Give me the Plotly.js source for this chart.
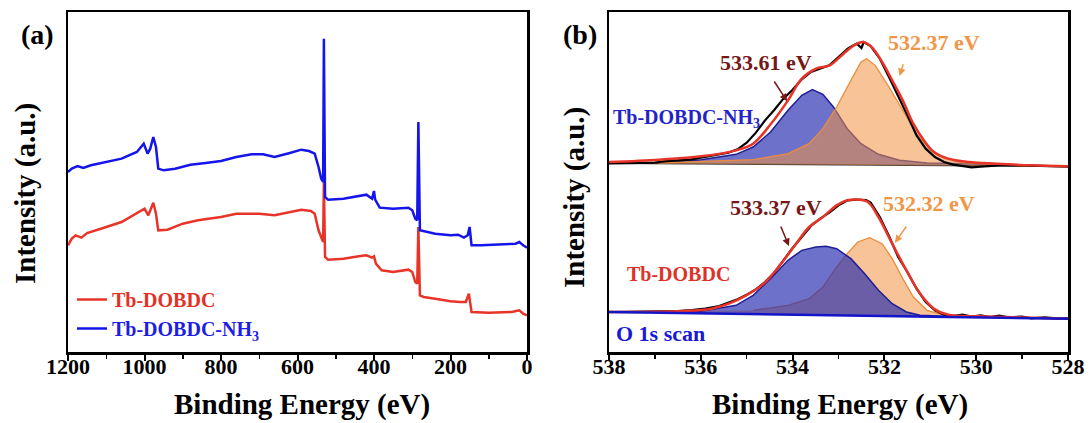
<!DOCTYPE html>
<html><head><meta charset="utf-8">
<script src="https://cdn.plot.ly/plotly-3.0.1.min.js"></script>
<style>html,body{margin:0;padding:0;background:#fff}#g{width:1091px;height:423px}</style>
</head><body><div id="g"></div>
<script>
// ---- Panel (a): XPS survey ----
const surveyE_blue = [1200,1190,1175,1160,1140,1100,1060,1020,1002,992,985,977,970,964,950,920,880,840,800,760,720,690,660,620,590,570,555,545,538,533,531,528,520,480,440,420,405,400,397,385,350,310,300,292,287,284,280,270,240,200,180,165,155,150,145,120,80,30,20,10,0];
const surveyI_blue = [540,550,558,552,560,570,580,600,625,595,610,645,615,550,545,550,562,567,573,585,593,593,585,597,607,603,595,555,520,510,940,465,457,460,467,472,460,483,457,433,430,433,425,400,395,690,365,362,355,350,352,343,350,375,320,320,322,325,330,320,313];
const surveyE_red = [1200,1190,1180,1165,1150,1130,1100,1060,1020,1000,990,977,970,964,940,900,860,800,760,700,660,620,590,565,555,545,537,533,531,528,520,480,440,420,405,400,395,380,350,310,300,292,287,284,280,270,240,200,175,160,152,145,100,40,20,10,0];
const surveyI_red = [320,340,350,343,357,365,375,390,415,430,410,448,415,365,367,385,395,405,415,415,410,420,427,423,415,365,337,330,510,285,277,280,287,290,283,287,265,245,240,247,240,210,205,375,170,165,160,152,150,150,175,120,118,120,125,115,110];
const survey_names = ["Tb-DOBDC", "Tb-DOBDC-NH<sub>3</sub>"];
const survey_ticks = [1200,1000,800,600,400,200,0];

// ---- Panel (b): O 1s ----
const topE_raw = [538,537.5,537,536.8,536.5,536.2,536,535.7,535.4,535.2,535,534.8,534.6,534.4,534.2,534,533.8,533.6,533.4,533.2,533,532.8,532.7,532.6,532.5,532.45,532.3,532.1,531.9,531.7,531.5,531.3,531.1,530.9,530.7,530.5,530.3,530.1,529.9,529.5,529,528.5,528];
const topI_raw = [566,566,568,572,574,578,583,590,598,608,628,658,695,726,760,787,818,840,850,860,885,910,918,925,912,930,918,880,825,770,710,650,610,585,570,562,558,554,556,560,560,558,556];
const topE_fit = [538,536.9,535.99,535.23,534.86,534.48,534.10,533.80,533.49,533.19,532.89,532.66,532.47,532.28,532.05,531.83,531.60,531.37,531.14,530.92,530.61,530.16,529.55,528.8,528];
const topI_fit = [570,577,587,605,625,683,755,820,850,860,895,920,930,915,870,815,755,685,635,600,580,570,565,560,557];
const topE_c1 = [536.9,535.99,535.23,534.86,534.48,534.10,533.80,533.57,533.34,533.11,532.81,532.51,532.13,531.67,531.07,530.31,529.55];
const topI_c1 = [567,577,593,615,660,725,770,787,773,735,670,625,593,575,567,565,563];
const topE_c2 = [536.9,534.86,534.10,533.64,533.34,533.04,532.73,532.51,532.39,532.20,531.90,531.60,531.30,530.99,530.69,530.31,529.55];
const topI_c2 = [567,577,595,625,670,735,815,870,880,860,795,725,655,605,580,568,563];
const topE_bg = [538,528];
const topI_bg = [566,557];

const botE_raw = [538,537,536.5,536.2,535.9,535.6,535.4,535.2,535,534.8,534.6,534.4,534.2,534,533.8,533.6,533.4,533.2,533,532.8,532.6,532.4,532.3,532.1,531.9,531.7,531.5,531.3,531.1,530.9,530.7,530.5,530.3,530.1,529.9,529.7,529.5,529.3,529,528.8,528.5,528.2,528];
const botI_raw = [120,121,123,126,130,138,148,158,172,188,210,238,275,312,345,378,400,418,440,455,457,456,448,405,348,285,240,190,150,125,112,108,112,106,110,105,109,104,106,101,104,100,102];
const botE_fit = [538,536.37,535.77,535.39,535.01,534.63,534.25,533.95,533.64,533.34,533.04,532.81,532.58,532.36,532.13,531.83,531.52,531.22,530.92,530.61,529.93,528.8,528];
const botI_fit = [120,123,130,145,170,205,265,320,375,405,440,455,457,450,405,325,245,175,130,112,107,103,100];
const botE_c1 = [538,535.99,535.23,534.86,534.48,534.10,533.80,533.49,533.27,533.04,532.73,532.43,532.13,531.83,531.52,531.22,530.69,528];
const botI_c1 = [120,122,140,170,220,275,305,315,317,310,280,235,185,145,120,110,107,100];
const botE_c2 = [534.86,534.10,533.64,533.34,533.04,532.81,532.58,532.32,532.05,531.83,531.60,531.37,531.07,530.69,529.93];
const botI_c2 = [125,140,160,195,255,295,330,343,325,280,220,165,125,110,105];
const botE_bg = [538,528];
const botI_bg = [120,100];
const o1s_ticks = [538,536,534,532,530,528];

const peak_labels = ["533.61 eV","532.37 eV","533.37 eV","532.32 eV"];

const FONT = "Liberation Serif, Times New Roman, serif";
const RED = "rgb(232,52,40)", BLUE = "rgb(20,20,235)";

const traces = [
  {x: surveyE_red, y: surveyI_red, name: '<span style="color:rgb(225,50,40)">' + survey_names[0] + '</span>', mode:'lines', line:{color:RED,width:2.5}, xaxis:'x', yaxis:'y'},
  {x: surveyE_blue, y: surveyI_blue, name: '<span style="color:rgb(30,30,225)">' + survey_names[1] + '</span>', mode:'lines', line:{color:BLUE,width:2.5}, xaxis:'x', yaxis:'y'},
  // top spectrum
  {x: topE_bg, y: topI_bg, mode:'lines', line:{color:'rgb(70,60,60)',width:1.5}, xaxis:'x2', yaxis:'y2', showlegend:false},
  {x: topE_c1, y: topI_c1, mode:'lines', fill:'tonexty', fillcolor:'rgba(40,45,175,0.68)', line:{color:'rgb(30,30,150)',width:1.5}, xaxis:'x2', yaxis:'y2', showlegend:false},
  {x: topE_bg, y: topI_bg, mode:'lines', line:{width:0,color:'rgba(0,0,0,0)'}, xaxis:'x2', yaxis:'y2', showlegend:false},
  {x: topE_c2, y: topI_c2, mode:'lines', fill:'tonexty', fillcolor:'rgba(240,145,65,0.55)', line:{color:'rgb(235,140,60)',width:1.3}, xaxis:'x2', yaxis:'y2', showlegend:false},
  {x: topE_raw, y: topI_raw, mode:'lines', line:{color:'black',width:2.2}, xaxis:'x2', yaxis:'y2', showlegend:false},
  {x: topE_fit, y: topI_fit, mode:'lines', line:{color:RED,width:2.5,shape:'spline'}, xaxis:'x2', yaxis:'y2', showlegend:false},
  // bottom spectrum
  {x: botE_bg, y: botI_bg, mode:'lines', line:{width:0,color:'rgba(0,0,0,0)'}, xaxis:'x2', yaxis:'y2', showlegend:false},
  {x: botE_c2, y: botI_c2, mode:'lines', fill:'tonexty', fillcolor:'rgba(240,145,65,0.55)', line:{color:'rgb(235,140,60)',width:1.3}, xaxis:'x2', yaxis:'y2', showlegend:false},
  {x: botE_bg, y: botI_bg, mode:'lines', line:{width:0,color:'rgba(0,0,0,0)'}, xaxis:'x2', yaxis:'y2', showlegend:false},
  {x: botE_c1, y: botI_c1, mode:'lines', fill:'tonexty', fillcolor:'rgba(40,45,175,0.68)', line:{color:'rgb(30,30,150)',width:1.5}, xaxis:'x2', yaxis:'y2', showlegend:false},
  {x: botE_raw, y: botI_raw, mode:'lines', line:{color:'black',width:2.2}, xaxis:'x2', yaxis:'y2', showlegend:false},
  {x: botE_fit, y: botI_fit, mode:'lines', line:{color:RED,width:2.5,shape:'spline'}, xaxis:'x2', yaxis:'y2', showlegend:false},
  {x: botE_bg, y: botI_bg, mode:'lines', line:{color:'rgb(20,20,200)',width:2.5}, xaxis:'x2', yaxis:'y2', showlegend:false}
];

const axBase = {showline:true, mirror:true, linecolor:'black', linewidth:2.5, showgrid:false, zeroline:false,
  ticks:'outside', ticklen:6, tickwidth:2, tickcolor:'black', ticklabelstandoff:-13,
  tickfont:{family:FONT, size:22, color:'black', weight:'bold'}};
const yBase = {showline:true, mirror:true, linecolor:'black', linewidth:2.5, showgrid:false, zeroline:false,
  showticklabels:false, ticks:'', range:[0,1020], fixedrange:true};

// paper coords helpers: plot area spans y px 12..352, x px 0..1091
const PX = px => px/1091;
const PY = py => (352-py)/340;

function ann(text, x, y, color, size, extra) {
  return Object.assign({text:text, x:x, y:y, xref:'x2', yref:'y2', showarrow:false, xanchor:'center', yanchor:'middle',
    font:{family:FONT, size:size, color:color, weight:'bold'}}, extra||{});
}
function arrow(x, y, ax, ay, color) {
  return {text:'', x:x, y:y, ax:ax, ay:ay, xref:'x2', yref:'y2', axref:'x2', ayref:'y2',
    showarrow:true, arrowhead:2, arrowsize:1, arrowwidth:1.5, arrowcolor:color};
}
function pann(text, px, py, size, extra) {
  return Object.assign({text:text, x:PX(px), y:PY(py), xref:'paper', yref:'paper', showarrow:false, xanchor:'center', yanchor:'middle',
    font:{family:FONT, size:size, color:'black', weight:'bold'}}, extra||{});
}
const DRED = 'rgb(118,24,24)', ORNG = 'rgb(240,150,70)';

const layout = {
  width:1091, height:423, margin:{l:0,r:0,t:12,b:71},
  paper_bgcolor:'white', plot_bgcolor:'white', showlegend:true,
  xaxis: Object.assign({}, axBase, {domain:[68/1091, 527/1091], range:[1200,0], tickvals:survey_ticks, minor:{ticks:'outside', ticklen:4, tickwidth:1.5, tickcolor:'black', tickvals:[1100,900,700,500,300,100]}}),
  yaxis: Object.assign({}, yBase, {anchor:'x'}),
  xaxis2: Object.assign({}, axBase, {domain:[609/1091, 1068/1091], range:[538,528], tickvals:o1s_ticks, anchor:'y2', minor:{ticks:'outside', ticklen:4, tickwidth:1.5, tickcolor:'black', tickvals:[537,535,533,531,529]}}),
  yaxis2: Object.assign({}, yBase, {anchor:'x2'}),
  legend:{x:PX(72), y:PY(280), xanchor:'left', yanchor:'top', bgcolor:'rgba(0,0,0,0)', borderwidth:0, traceorder:'normal',
    font:{family:FONT, size:20, weight:'bold'}, tracegroupgap:0, itemwidth:30},
  annotations: [
    pann('(a)', 37, 35, 28),
    pann('(b)', 580, 35, 28),
    pann('Intensity (a.u.)', 25, 194, 29, {textangle:-90}),
    pann('Intensity (a.u.)', 574, 198, 29, {textangle:-90}),
    pann('Binding Energy (eV)', 302, 405, 29),
    pann('Binding Energy (eV)', 840, 405, 29),
    ann(peak_labels[0], 534.58, 868, DRED, 22),
    ann(peak_labels[1], 530.92, 930, ORNG, 22),
    ann(peak_labels[2], 534.36, 435, DRED, 22),
    ann(peak_labels[3], 531.03, 445, ORNG, 22),
    ann('Tb-DOBDC-NH<sub>3</sub>', 537.96, 700, 'rgb(35,35,200)', 20, {xanchor:'left'}),
    ann('Tb-DOBDC', 537.65, 235, 'rgb(222,50,40)', 20, {xanchor:'left'}),
    ann('O 1s scan', 537.9, 55, 'rgb(25,25,215)', 22, {xanchor:'left'}),
    arrow(534.12, 752, 534.42, 816, DRED),
    arrow(531.67, 828, 531.58, 868, ORNG),
    arrow(534.08, 318, 534.27, 381, DRED),
    arrow(531.77, 328, 531.50, 381, ORNG)
  ]
};
Plotly.newPlot('g', traces, layout, {displayModeBar:false, staticPlot:true});
</script></body></html>
